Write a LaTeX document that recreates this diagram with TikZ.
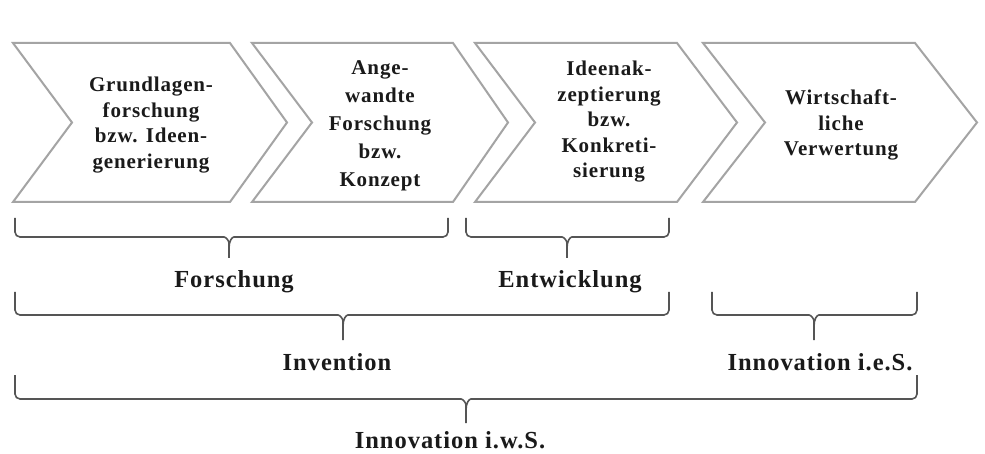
\documentclass[tikz,border=0pt]{standalone}
\usepackage{fontspec}
\setmainfont{Liberation Serif}[LetterSpace=4]
\definecolor{chevgray}{HTML}{A4A4A4}
\definecolor{bracegray}{HTML}{555555}
\definecolor{textblack}{HTML}{1A1A1A}
% curly brace opening downwards: x-left, x-right, y-top, y-bar, x-tip, y-tip
\newcommand{\drawbrace}[6]{%
  \draw[brc] (#1,#3) -- (#1,#4) -- ({#5-10},#4)
    .. controls ({#5-3},#4) and (#5,{#4+4}) .. (#5,{#4+11}) -- (#5,#6)
    (#5,{#4+11}) .. controls (#5,{#4+4}) and ({#5+3},#4) .. ({#5+10},#4)
    -- (#2,#4) -- (#2,#3);}
\begin{document}
\begin{tikzpicture}[x=1pt,y=-1pt,
  chev/.style={draw=chevgray,line width=2pt,fill=white,line join=miter},
  stage/.style={font=\fontsize{21}{25.5}\selectfont\bfseries,align=center,
    text=textblack,inner sep=0pt},
  phase/.style={font=\fontsize{24.5}{28}\selectfont\bfseries,text=textblack,
    anchor=base,inner sep=0pt},
  brc/.style={draw=bracegray,line width=1.6pt,rounded corners=5pt}]
\useasboundingbox[fill=white] (0,0) rectangle (985,454);

% process chevrons
\draw[chev] (13,43) -- (230,43) -- (287,122.5) -- (230,202) -- (13,202) -- (72,122.5) -- cycle;
\draw[chev] (252,43) -- (453,43) -- (508,122.5) -- (453,202) -- (252,202) -- (312,122.5) -- cycle;
\draw[chev] (475,43) -- (677,43) -- (737,122.5) -- (677,202) -- (475,202) -- (535,122.5) -- cycle;
\draw[chev] (703,43) -- (915,43) -- (977,122.5) -- (915,202) -- (703,202) -- (765,122.5) -- cycle;

\node[stage] (s1) at (151,125) {Grundlagen-\\forschung\\bzw. Ideen-\\generierung};
\node[stage,font=\fontsize{21}{28}\selectfont\bfseries] (s2) at (380,126) {Ange-\\wandte\\Forschung\\bzw.\\Konzept};
\node[stage] (s3) at (609,122) {Ideenak-\\zeptierung\\bzw.\\Konkreti-\\sierung};
\node[stage] (s4) at (841,125) {Wirtschaft-\\liche\\Verwertung};

% grouping braces
\drawbrace{15}{448}{218}{237}{229}{258}
\drawbrace{466}{669}{218}{237}{567}{258}
\drawbrace{15}{669}{292}{315}{343}{340}
\drawbrace{712}{917}{292}{315}{814}{340}
\drawbrace{15}{917}{375}{399}{466}{423}

\node[phase] (forschung) at (234,288) {Forschung};
\node[phase] (entwicklung) at (570,288) {Entwicklung};
\node[phase] (invention) at (337,370) {Invention};
\node[phase] (ies) at (820,370) {Innovation i.e.S.};
\node[phase] (iws) at (450,448) {Innovation i.w.S.};
\end{tikzpicture}
\end{document}
